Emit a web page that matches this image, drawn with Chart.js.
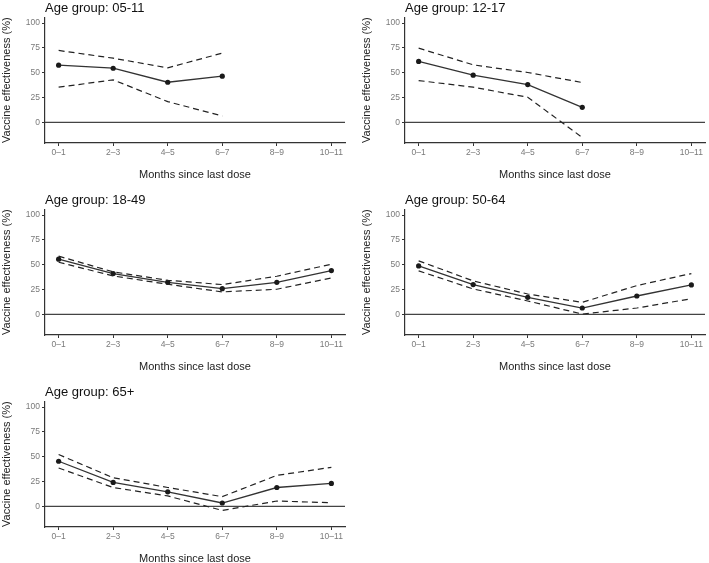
<!DOCTYPE html>
<html lang="en">
<head>
  <meta charset="UTF-8">
  <title>Vaccine effectiveness by age group</title>
  <script src="https://cdn.jsdelivr.net/npm/chart.js"></script>
  <style>
    body {
      margin: 0;
      width: 709px;
      height: 563px;
      overflow: hidden;
      background: #fff;
      position: relative;
      font-family: "Liberation Sans", Arial, sans-serif;
    }
    .panel {
      position: absolute;
      width: 354px;
      height: 190px;
    }
  </style>
</head>
<body>
  <div class="panel" style="left:-5px; top:0px;"><canvas id="c0"></canvas></div>
  <div class="panel" style="left:355px; top:0px;"><canvas id="c1"></canvas></div>
  <div class="panel" style="left:-5px; top:192px;"><canvas id="c2"></canvas></div>
  <div class="panel" style="left:355px; top:192px;"><canvas id="c3"></canvas></div>
  <div class="panel" style="left:-5px; top:384px;"><canvas id="c4"></canvas></div>

  <script>
    // months since last dose
    const monthLabels = ['0–1', '2–3', '4–5', '6–7', '8–9', '10–11'];
    const yTicks = [0, 25, 50, 75, 100];
    const ageGroups = ['05-11', '12-17', '18-49', '50-64', '65+'];

    // point estimates and 95% CI bounds, per age group
    const est0511 = [57.6, 54.5, 40.4, 46.5];
    const lo0511  = [35.4, 42.8, 20.9, 6.4];
    const hi0511  = [72.4, 64.6, 54.9, 69.7];

    const est1217 = [61.3, 47.5, 38.0, 15.2];
    const lo1217  = [42.1, 35.4, 25.3, -15.2];
    const hi1217  = [74.7, 57.9, 50.2, 40.1];

    const est1849 = [55.6, 41.1, 32.3, 25.9, 32.3, 44.1];
    const lo1849  = [52.5, 38.7, 30.3, 22.6, 25.3, 36.7];
    const hi1849  = [58.6, 42.8, 34.3, 30.0, 38.4, 50.5];

    const est5064 = [48.8, 30.0, 17.2, 6.4, 18.5, 29.6];
    const lo5064  = [43.8, 25.6, 13.5, 0.3, 6.4, 15.8];
    const hi5064  = [53.9, 33.7, 20.5, 12.1, 29.0, 41.1];

    const est65 = [45.4, 24.1, 14.6, 3.4, 19.0, 23.1];
    const lo65  = [38.6, 19.0, 10.5, -4.1, 5.4, 3.7];
    const hi65  = [52.2, 28.8, 19.0, 9.8, 31.2, 39.3];

    const estimates = [est0511, est1217, est1849, est5064, est65];
    const lowers = [lo0511, lo1217, lo1849, lo5064, lo65];
    const uppers = [hi0511, hi1217, hi1849, hi5064, hi65];

    const toPoints = arr => arr.map((v, i) => ({ x: i, y: v }));

    // horizontal reference line at 0
    const zeroLine = {
      id: 'zeroLine',
      beforeDatasetsDraw(chart) {
        const { ctx, chartArea, scales } = chart;
        const y = scales.y.getPixelForValue(0);
        ctx.save();
        ctx.strokeStyle = '#444';
        ctx.lineWidth = 1.2;
        ctx.beginPath();
        ctx.moveTo(chartArea.left, y);
        ctx.lineTo(chartArea.right, y);
        ctx.stroke();
        ctx.restore();
      }
    };

    const tickFont = { family: '"Liberation Sans", Arial, sans-serif', size: 8.5 };
    const titleFont = { family: '"Liberation Sans", Arial, sans-serif', size: 11 };

    ageGroups.forEach((group, k) => {
      const dashed = {
        borderColor: '#222',
        borderWidth: 1.2,
        borderDash: [6, 4],
        pointRadius: 0,
        fill: false,
        tension: 0
      };
      new Chart(document.getElementById('c' + k), {
        type: 'line',
        data: {
          datasets: [
            Object.assign({ label: 'Lower', data: toPoints(lowers[k]) }, dashed),
            Object.assign({ label: 'Upper', data: toPoints(uppers[k]) }, dashed),
            {
              label: 'Estimate',
              data: toPoints(estimates[k]),
              borderColor: '#333',
              borderWidth: 1.3,
              pointRadius: 2.6,
              pointBackgroundColor: '#1a1a1a',
              pointBorderColor: '#1a1a1a',
              pointBorderWidth: 0,
              fill: false,
              tension: 0
            }
          ]
        },
        options: {
          responsive: true,
          maintainAspectRatio: false,
          animation: false,
          events: [],
          layout: { padding: { left: 0, right: 1, top: 0, bottom: 0 } },
          plugins: {
            legend: { display: false },
            tooltip: { enabled: false },
            title: {
              display: true,
              text: 'Age group: ' + group,
              align: 'start',
              fullSize: false,
              color: '#111',
              font: { family: '"Liberation Sans", Arial, sans-serif', size: 13, weight: 'normal' },
              padding: { top: 0.5, bottom: 1.2 }
            }
          },
          scales: {
            x: {
              type: 'linear',
              min: -0.25,
              max: 5.25,
              afterBuildTicks: s => { s.ticks = monthLabels.map((_, i) => ({ value: i })); },
              afterFit: s => { s.height = 47; },
              ticks: {
                callback: v => monthLabels[v],
                color: '#7a7a7a',
                font: tickFont,
                padding: 2,
                maxRotation: 0,
                autoSkip: false
              },
              grid: { drawOnChartArea: false, tickLength: 3, tickColor: '#333', tickWidth: 1 },
              border: { display: true, color: '#333', width: 1.2 },
              title: {
                display: true,
                text: 'Months since last dose',
                color: '#222',
                font: titleFont,
                padding: { top: 0, bottom: 8 }
              }
            },
            y: {
              min: -20.75,
              max: 105.75,
              afterBuildTicks: s => { s.ticks = yTicks.map(v => ({ value: v })); },
              afterFit: s => { s.width = 50; },
              ticks: {
                color: '#7a7a7a',
                font: tickFont,
                padding: 2
              },
              grid: { drawOnChartArea: false, tickLength: 3, tickColor: '#333', tickWidth: 1 },
              border: { display: true, color: '#333', width: 1.2 },
              title: {
                display: true,
                text: 'Vaccine effectiveness (%)',
                color: '#222',
                font: titleFont,
                padding: { top: 5, bottom: 0 }
              }
            }
          }
        },
        plugins: [zeroLine]
      });
    });
  </script>
</body>
</html>
